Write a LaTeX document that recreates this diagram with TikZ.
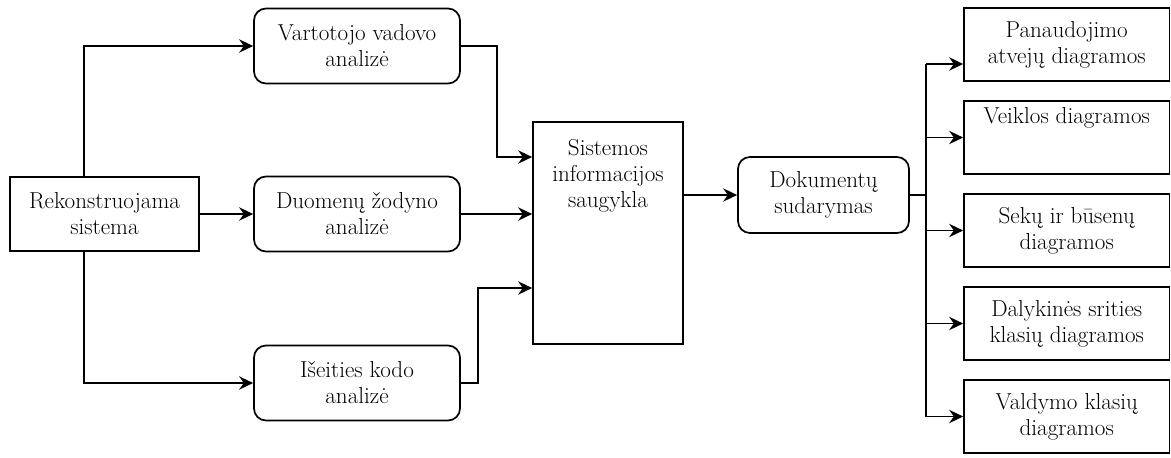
\documentclass[tikz,border=0pt]{standalone}
\usepackage{fontspec}
\usetikzlibrary{arrows.meta}
\begin{document}
\begin{tikzpicture}[x=0.75pt,y=-0.75pt,
  every node/.style={font=\rmfamily\fontsize{17.3}{19.5}\selectfont, align=center, inner sep=0pt},
  sqbox/.style={draw, line width=1.3pt, rectangle},
  rbox/.style={draw, line width=1.3pt, rounded corners=9pt,
               minimum width=154.5pt, minimum height=56.25pt},
  outbox/.style={draw, line width=1.3pt, minimum width=154.1pt, minimum height=54.75pt},
  conn/.style={line width=1.3pt},
  arr/.style={conn, -{Stealth[length=10.5pt,width=10pt,inset=3.5pt]}},
]
\useasboundingbox (0,0) rectangle (1171,457);

% source system
\node[sqbox, minimum width=141.75pt, minimum height=55.5pt] (rek) at (104.5,214)
  {Rekonstruojama\\sistema};

% analysis steps
\node[rbox] (vart)  at (357,46)  {Vartotojo vadovo\\analizė};
\node[rbox] (duom)  at (357,214) {Duomenų žodyno\\analizė};
\node[rbox] (iseit) at (357,383) {Išeities kodo\\analizė};

% repository
\node[sqbox, minimum width=112.5pt, minimum height=166.5pt] (saug) at (608,233) {};
\node[anchor=north] (saugT) at (608,139) {Sistemos\\informacijos\\saugykla};

% document generation
\node[rbox, minimum width=128.25pt, minimum height=57pt] (dok) at (823.5,195)
  {Dokumentų\\sudarymas};

% generated diagrams
\node[outbox] (p1) at (1066.75,44.5)  {Panaudojimo\\atvejų diagramos};
\node[outbox] (p2) at (1066.75,137.5) {};
\node[anchor=north] (p2T) at (1066.75,107) {Veiklos diagramos};
\node[outbox] (p3) at (1066.75,230.5) {Sekų ir būsenų\\diagramos};
\node[outbox] (p4) at (1066.75,323.5) {Dalykinės srities\\klasių diagramos};
\node[outbox] (p5) at (1066.75,416.5) {Valdymo klasių\\diagramos};

% routing points
\coordinate (bx) at (84,214);
\coordinate (j1) at (497,157);
\coordinate (j3) at (478,288);
\coordinate (tr) at (926,195);
\coordinate (t1) at (926,64);

% source to analyses
\draw[arr] (rek.north -| bx) |- (vart.west);
\draw[arr] (rek.east) -- (duom.west);
\draw[arr] (rek.south -| bx) |- (iseit.west);

% analyses to repository
\draw[arr] (vart.east) -| (j1) -- (j1 -| saug.west);
\draw[arr] (duom.east) -- (duom.east -| saug.west);
\draw[arr] (iseit.east) -| (j3) -- (j3 -| saug.west);

% repository to documents
\draw[arr] (saug.east |- dok.west) -- (dok.west);

% documents to diagrams
\draw[conn] (dok.east) -- (tr);
\draw[conn] (t1) -- (tr |- p5.west);
\draw[arr] (t1) -- (t1 -| p1.west);
\draw[arr] (tr |- p2.west) -- (p2.west);
\draw[arr] (tr |- p3.west) -- (p3.west);
\draw[arr] (tr |- p4.west) -- (p4.west);
\draw[arr] (tr |- p5.west) -- (p5.west);
\end{tikzpicture}
\end{document}
